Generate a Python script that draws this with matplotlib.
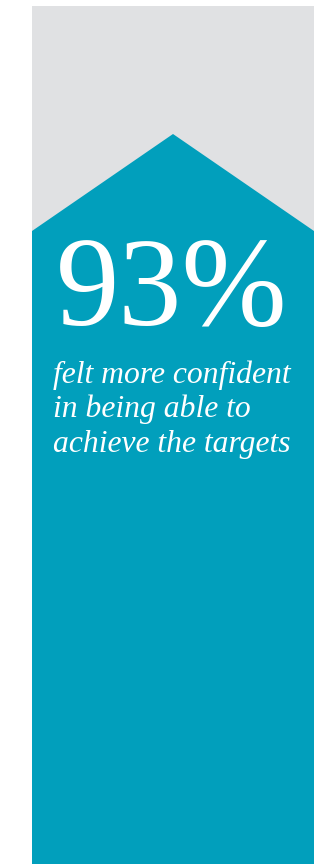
import matplotlib
matplotlib.use("Agg")
import matplotlib.pyplot as plt
from matplotlib.patches import Rectangle, Polygon

# values
share_pct = 93
headline = f"{share_pct}%"
caption_lines = ["felt more confident",
                 "in being able to",
                 "achieve the targets"]

teal = "#019fbc"
grey = "#e0e1e3"

W, H = 321, 864
fig = plt.figure(figsize=(W / 100, H / 100), dpi=100)
ax = fig.add_axes([0, 0, 1, 1])
ax.set_xlim(0, W)
ax.set_ylim(H, 0)
ax.axis("off")

# background column and the rising arrow
left, right, top = 32, 314, 6
ax.add_patch(Rectangle((left, top), right - left, H - top, color=grey, lw=0))
apex_y, shoulder_y = 134, 231
mid = (left + right) / 2
ax.add_patch(Polygon([(left, H), (left, shoulder_y), (mid, apex_y),
                      (right, shoulder_y), (right, H)],
                     closed=True, color=teal, lw=0))

ax.text(56, 325, headline, color="white", fontsize=91,
        family="Liberation Serif", va="baseline", ha="left")

for i, line in enumerate(caption_lines):
    ax.text(53, 383 + i * 34.5, line, color="white", fontsize=22.8,
            family="Liberation Serif", style="italic",
            va="baseline", ha="left")

fig.savefig("out.png", dpi=100)
